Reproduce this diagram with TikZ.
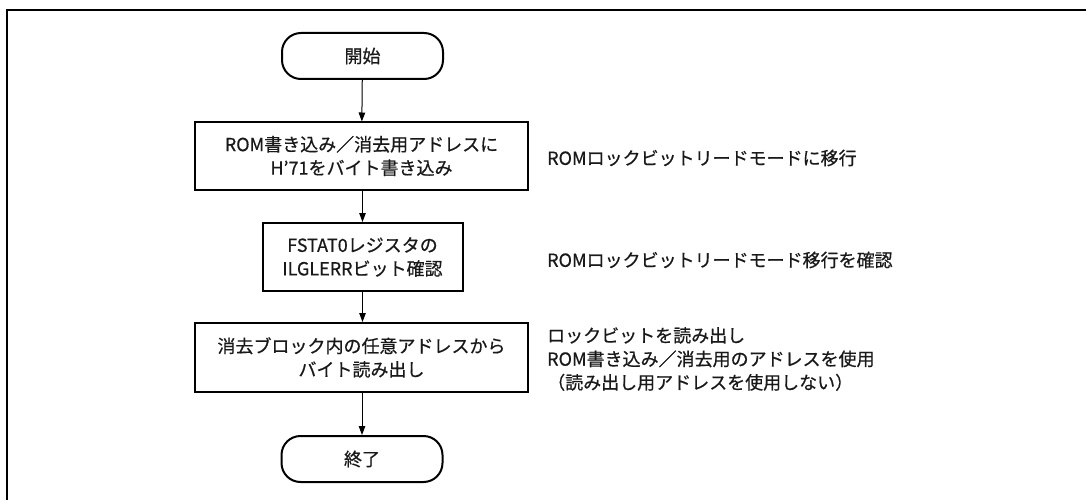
\documentclass[tikz,border=0pt]{standalone}
\usepackage{fontspec}
\setmainfont{Noto Sans CJK JP}[FakeBold=0.6]
\usetikzlibrary{arrows.meta}
\tikzset{
  x=1pt,y=1pt,
  txt/.style={font=\fontsize{18}{23.5}\selectfont, text=black!90},
  proc/.style={txt, draw, line width=2pt, minimum width=333pt, minimum height=67pt, inner sep=0pt, align=center},
  term/.style={txt, draw, line width=2pt, rounded corners=19pt, minimum width=161pt, minimum height=46pt, inner sep=0pt, align=center},
  note/.style={txt, anchor=west, inner sep=0pt, align=left},
  flow/.style={line width=1pt, -{Triangle[length=9pt,width=6.5pt]}}
}
\begin{document}
\begin{tikzpicture}
\useasboundingbox (0,0) rectangle (1086,-500);
\draw[line width=2.5pt] (7,-510) -- (7,-10) -- (1095,-10);
\node[term] (start) at (362.5,-56) {開始};
\node[proc] (b1) at (361.5,-156) {ROM書き込み／消去用アドレスに\\H'71をバイト書き込み};
\node[proc, minimum width=200pt, minimum height=68pt] (b2) at (362.5,-257) {FSTAT0レジスタの\\ILGLERRビット確認};
\node[proc, minimum height=69pt] (b3) at (361.5,-357.5) {消去ブロック内の任意アドレスから\\バイト読み出し};
\node[term] (end) at (362,-459) {終了};
\draw[flow] (start) -- (b1);
\draw[flow] (b1.south -| b2) -- (b2);
\draw[flow] (b2) -- (b2 |- b3.north);
\draw[flow] (b3.south -| end) -- (end);
\node[note] (n1) at (547,-158) {ROMロックビットリードモードに移行};
\node[note] (n2) at (547,-260) {ROMロックビットリードモード移行を確認};
\node[note] (n3) at (547,-359) {ロックビットを読み出し\\ROM書き込み／消去用のアドレスを使用\\（読み出し用アドレスを使用しない）};
\end{tikzpicture}
\end{document}
